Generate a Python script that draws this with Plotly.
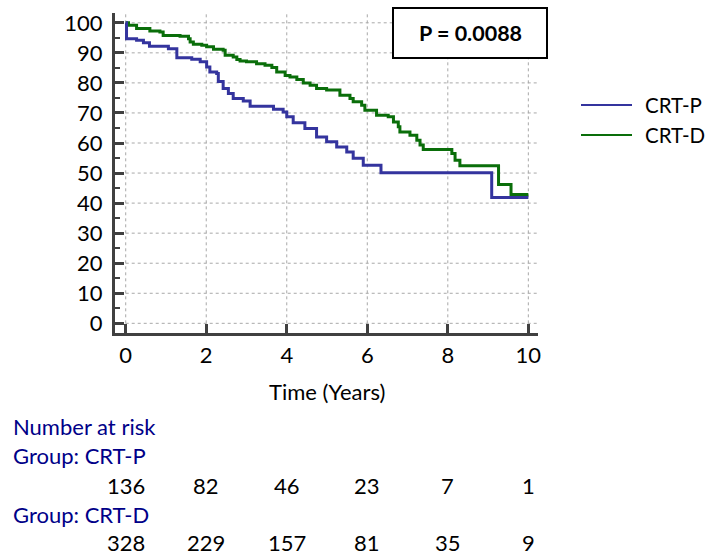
import plotly.graph_objects as go

# ---- data ----
series_names = ["CRT-P", "CRT-D"]

crtp_time = [0, 0.02, 0.27, 0.44, 0.59, 1.06, 1.27, 1.64, 1.85, 2.01, 2.09, 2.26, 2.30, 2.42,
             2.55, 2.67, 2.92, 3.09, 3.67, 3.91, 4.00, 4.16, 4.45, 4.74, 4.99, 5.24, 5.49,
             5.65, 5.90, 6.34, 9.09, 10.0]
crtp_surv = [100, 94.7, 94.2, 93.4, 92.2, 91.4, 88.4, 87.9, 87.0, 85.3, 83.6, 83.1, 80.5, 78.1,
             76.5, 74.8, 74.0, 72.2, 71.2, 70.3, 68.7, 66.7, 64.8, 62.0, 60.4, 58.7, 57.0,
             54.9, 52.6, 50.1, 41.9, 41.9]

crtd_time = [0, 0.07, 0.27, 0.60, 0.85, 0.93, 1.35, 1.56, 1.60, 1.68, 1.89, 2.01, 2.18, 2.42,
             2.47, 2.67, 2.76, 2.84, 3.00, 3.25, 3.46, 3.63, 3.75, 3.96, 4.08, 4.25, 4.41,
             4.58, 4.74, 4.99, 5.32, 5.57, 5.65, 5.86, 5.94, 6.23, 6.52, 6.65, 6.77, 6.81,
             7.06, 7.23, 7.31, 7.39, 8.10, 8.18, 8.30, 9.26, 9.57, 10.0]
crtd_surv = [100, 99.2, 98.1, 97.3, 96.9, 95.8, 95.5, 94.7, 93.6, 92.9, 92.5, 92.0, 91.2, 90.9,
             89.2, 88.6, 87.8, 87.3, 87.0, 86.4, 85.9, 85.1, 83.6, 82.5, 82.0, 81.1, 80.0,
             79.2, 78.1, 77.6, 75.9, 74.8, 73.7, 72.6, 70.9, 69.2, 68.7, 67.0, 65.4, 63.7,
             62.6, 60.9, 59.3, 57.8, 56.5, 54.3, 52.4, 46.2, 42.9, 42.9]

risk_times = [0, 2, 4, 6, 8, 10]
risk_crtp = [136, 82, 46, 23, 7, 1]
risk_crtd = [328, 229, 157, 81, 35, 9]

x_ticks = [0, 2, 4, 6, 8, 10]
y_ticks = [0, 10, 20, 30, 40, 50, 60, 70, 80, 90, 100]

p_text = "P = 0.0088"
x_title = "Time (Years)"
risk_title = "Number at risk"

# ---- style ----
W, H = 707, 556
L, R, T, B = 115, 538, 13, 333        # plot area, pixels
FONT = "Lato"
FS = 22
BLUE = "#34349e"
GREEN = "#0a6e0a"
NAVY = "#000088"
AXC = "#404040"
XR = [-0.266, 10.24]
YR = [-3.22, 103.26]


def px(xs):
    return (xs - L) / (R - L)


def py(ys):
    return (B - ys) / (B - T)


fig = go.Figure()
fig.add_trace(go.Scatter(x=crtd_time, y=crtd_surv, mode="lines", line_shape="hv",
                         line=dict(color=GREEN, width=3), name=series_names[1],
                         showlegend=False))
fig.add_trace(go.Scatter(x=crtp_time, y=crtp_surv, mode="lines", line_shape="hv",
                         line=dict(color=BLUE, width=3), name=series_names[0],
                         showlegend=False))

shapes = []
grid = dict(color="#a8a8a8", width=1, dash="dot")
for yv in y_ticks:
    shapes.append(dict(type="line", xref="x", yref="y", x0=0, x1=XR[1], y0=yv, y1=yv,
                       line=grid, layer="below"))
for xv in x_ticks:
    shapes.append(dict(type="line", xref="x", yref="y", x0=xv, x1=xv, y0=0, y1=YR[1],
                       line=grid, layer="below"))
# p-value box
shapes.append(dict(type="rect", xref="paper", yref="paper", x0=px(393), x1=px(547),
                   y0=py(58), y1=py(8), fillcolor="white", line=dict(color="black", width=2),
                   layer="above"))
# legend lines
for i, (nm, col) in enumerate(zip(series_names, [BLUE, GREEN])):
    yy = 105 + 30 * i
    shapes.append(dict(type="line", xref="paper", yref="paper", x0=px(581), x1=px(632),
                       y0=py(yy), y1=py(yy), line=dict(color=col, width=2)))

base = dict(showarrow=False, borderpad=0, borderwidth=0)
ann = []
ann.append(dict(text=f"<b>{p_text}</b>", xref="paper", yref="paper", x=px(470), y=py(33),
                font=dict(family=FONT, size=21.5, color="black"),
                xanchor="center", yanchor="middle", **base))
for i, nm in enumerate(series_names):
    ann.append(dict(text=nm, xref="paper", yref="paper", x=px(645), y=py(105 + 30 * i),
                    font=dict(family=FONT, size=20.5, color="black"),
                    xanchor="left", yanchor="middle", **base))
ann.append(dict(text=x_title, xref="x", yref="paper", x=5, y=py(391),
                font=dict(family=FONT, size=FS, color="black"), xanchor="center",
                yanchor="middle", **base))
ann.append(dict(text=risk_title, xref="paper", yref="paper", x=px(13), y=py(426),
                font=dict(family=FONT, size=FS, color=NAVY),
                xanchor="left", yanchor="middle", **base))
for i, (nm, vals) in enumerate(zip(series_names, [risk_crtp, risk_crtd])):
    yl = 455 + 59 * i
    yn = 485 + 57 * i
    ann.append(dict(text=f"Group: {nm}", xref="paper", yref="paper", x=px(13), y=py(yl),
                    font=dict(family=FONT, size=FS, color=NAVY),
                    xanchor="left", yanchor="middle", **base))
    for t, v in zip(risk_times, vals):
        ann.append(dict(text=str(v), xref="x", yref="paper", x=t, y=py(yn),
                        font=dict(family=FONT, size=FS, color="black"), xanchor="center",
                        yanchor="middle", **base))

fig.update_layout(
    width=W, height=H,
    margin=dict(l=L, r=W - R, t=T, b=H - B, pad=0, autoexpand=False),
    paper_bgcolor="white", plot_bgcolor="white",
    shapes=shapes, annotations=ann, showlegend=False,
    font=dict(family=FONT, size=FS, color="black"),
    xaxis=dict(range=XR, tickvals=x_ticks, ticks="inside", ticklen=9, tickwidth=2.5,
               tickcolor=AXC, showline=True, linecolor=AXC, linewidth=3, showgrid=False,
               zeroline=False, ticklabelstandoff=1, automargin=False,
               tickfont=dict(family=FONT, size=FS, color="black")),
    yaxis=dict(range=YR, tickvals=y_ticks, ticks="inside", ticklen=9, tickwidth=2.5,
               tickcolor=AXC, showline=True, linecolor=AXC, linewidth=3, showgrid=False,
               zeroline=False, ticklabelstandoff=5, automargin=False,
               minor=dict(ticks="inside", ticklen=5, tickwidth=2, tickcolor=AXC,
                          dtick=5, tick0=0, showgrid=False),
               tickfont=dict(family=FONT, size=FS, color="black")),
)

fig.write_html("out.html", config={"displayModeBar": False},
               post_script="document.body.style.margin='0px';document.body.style.overflow='hidden';")
